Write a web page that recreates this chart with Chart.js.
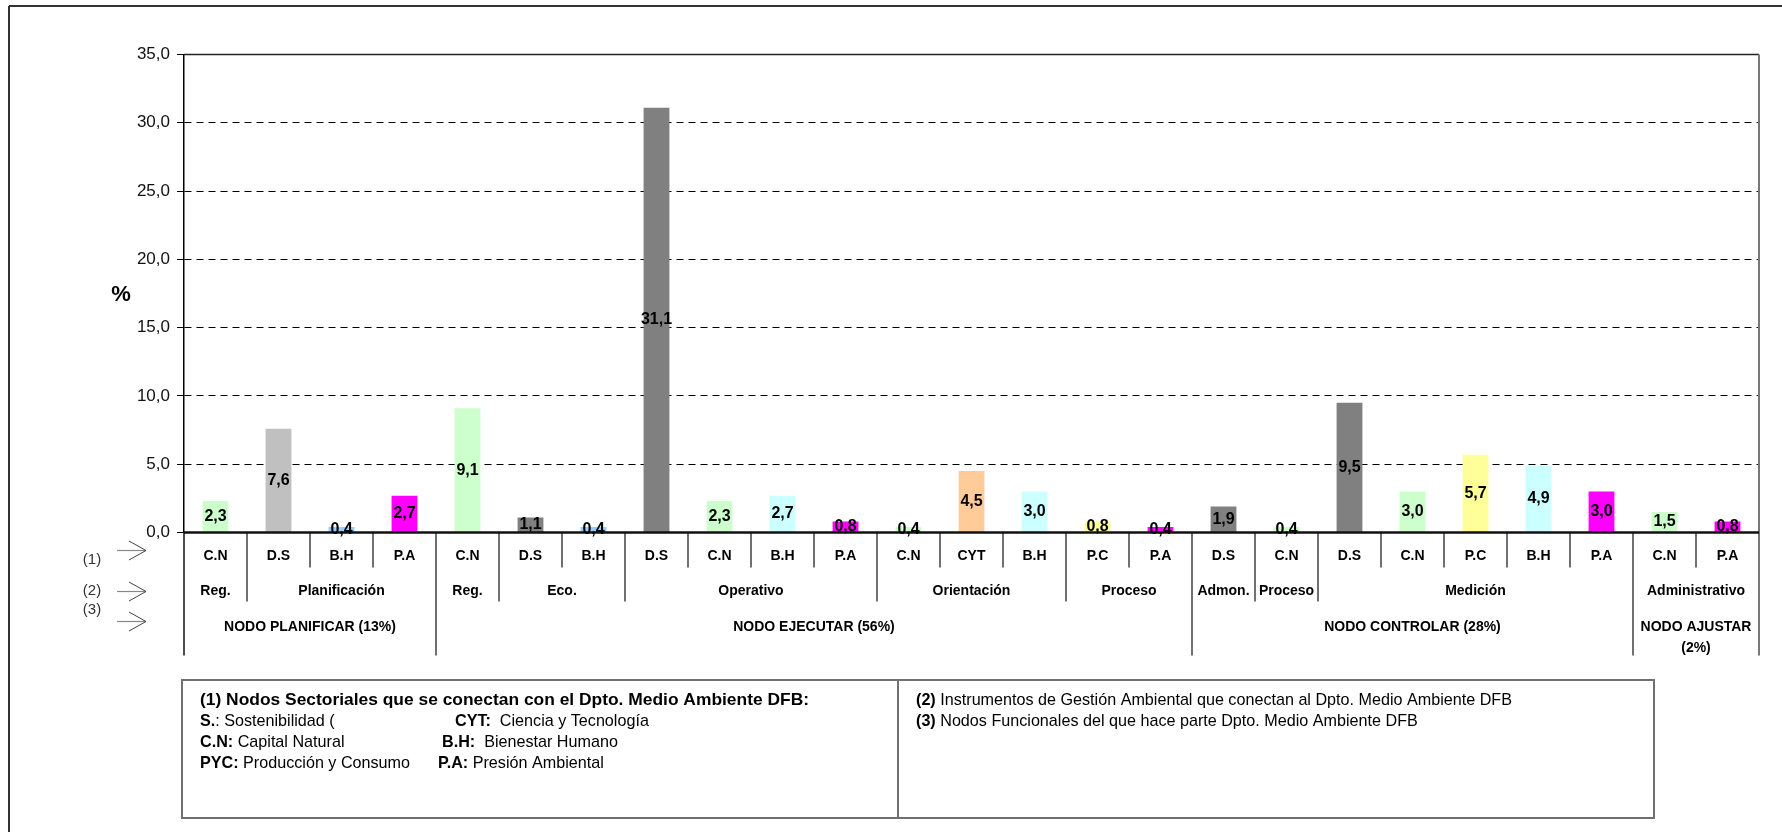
<!DOCTYPE html>
<html>
<head>
<meta charset="utf-8">
<title>Nodos Dpto. Medio Ambiente DFB</title>
<script src="https://cdn.jsdelivr.net/npm/chart.js@4.4.1/dist/chart.umd.min.js"></script>
<style>
  html, body { margin: 0; padding: 0; background: #fff; }
  #wrap { width: 1782px; height: 832px; }
</style>
</head>
<body>
<div id="wrap"><canvas id="grafico" width="1782" height="832"></canvas></div>
<script>
// (1) nodo sectorial de cada barra
const sectores = ['C.N', 'D.S', 'B.H', 'P.A', 'C.N', 'D.S', 'B.H', 'D.S', 'C.N', 'B.H', 'P.A', 'C.N', 'CYT',
  'B.H', 'P.C', 'P.A', 'D.S', 'C.N', 'D.S', 'C.N', 'P.C', 'B.H', 'P.A', 'C.N', 'P.A'];
const porcentajes = [2.3, 7.6, 0.4, 2.7, 9.1, 1.1, 0.4, 31.1, 2.3, 2.7, 0.8, 0.4, 4.5,
  3.0, 0.8, 0.4, 1.9, 0.4, 9.5, 3.0, 5.7, 4.9, 3.0, 1.5, 0.8];
const colores = ['#CCFFCC', '#C0C0C0', '#99CCFF', '#FF00FF', '#CCFFCC', '#808080', '#99CCFF', '#808080', '#CCFFCC',
  '#CCFFFF', '#FF00FF', '#CCFFCC', '#FFCC99', '#CCFFFF', '#FFFF99', '#FF00FF', '#808080', '#CCFFCC', '#808080',
  '#CCFFCC', '#FFFF99', '#CCFFFF', '#FF00FF', '#CCFFCC', '#FF00FF'];

// (2) instrumentos de gestion y cuantas barras cubre cada uno
const instrumentos = ['Reg.', 'Planificación', 'Reg.', 'Eco.', 'Operativo', 'Orientación', 'Proceso',
  'Admon.', 'Proceso', 'Medición', 'Administrativo'];
const instrumentosSpan = [1, 3, 1, 2, 4, 3, 2, 1, 1, 5, 2];

// (3) nodos funcionales
const nodos = ['NODO PLANIFICAR (13%)', 'NODO EJECUTAR (56%)', 'NODO CONTROLAR (28%)', 'NODO AJUSTAR (2%)'];
const nodosSpan = [4, 12, 7, 2];

const niveles = ['(1)', '(2)', '(3)'];

const nota1 = [
  [['(1) Nodos Sectoriales que se conectan con el Dpto. Medio Ambiente DFB:', true]],
  [['S.', true], [': Sostenibilidad (', false]],
  [['C.N:', true], [' Capital Natural', false]],
  [['PYC:', true], [' Producción y Consumo', false]]
];
const nota1b = [
  null,
  [['CYT:', true], ['  Ciencia y Tecnología', false]],
  [['B.H:', true], ['  Bienestar Humano', false]],
  [['P.A:', true], [' Presión Ambiental', false]]
];
const nota2 = [
  [['(2)', true], [' Instrumentos de Gestión Ambiental que conectan al Dpto. Medio Ambiente DFB', false]],
  [['(3)', true], [' Nodos Funcionales del que hace parte Dpto. Medio Ambiente DFB', false]]
];

const FONT = '"Liberation Sans", Arial, sans-serif';
const fmt = v => v.toFixed(1).replace('.', ',');

function line(ctx, x1, y1, x2, y2, color, w) {
  ctx.beginPath();
  ctx.strokeStyle = color;
  ctx.lineWidth = w;
  ctx.moveTo(x1, y1);
  ctx.lineTo(x2, y2);
  ctx.stroke();
}

// texto angosto: varias partes seguidas, comprimidas en horizontal
function narrow(ctx, partes, x, y, esc) {
  ctx.save();
  ctx.translate(x, y);
  ctx.scale(esc, 1);
  let cx = 0;
  partes.forEach(([s, b]) => {
    ctx.font = (b ? 'bold ' : '') + '17px ' + FONT;
    ctx.fillText(s, cx, 0);
    cx += ctx.measureText(s).width;
  });
  ctx.restore();
}

function rowWidth(ctx, partes) {
  let w = 0;
  partes.forEach(([s, b]) => {
    ctx.font = (b ? 'bold ' : '') + '17px ' + FONT;
    w += ctx.measureText(s).width;
  });
  return w;
}

function bounds(spans) {
  const out = [];
  let acc = 0;
  spans.forEach(n => { out.push([acc, acc + n]); acc += n; });
  return out;
}

const decoracion = {
  id: 'decoracion',
  beforeDraw(chart) {
    const ctx = chart.ctx;
    ctx.save();
    ctx.fillStyle = '#fff';
    ctx.fillRect(0, 0, chart.width, chart.height);
    ctx.restore();
  },
  afterDatasetsDraw(chart) {
    const { ctx, chartArea: a, scales: { x } } = chart;
    const meta = chart.getDatasetMeta(0);
    const step = x.getPixelForValue(1) - x.getPixelForValue(0);
    const edge = k => x.getPixelForValue(0) - step / 2 + k * step;
    const base = a.bottom;
    ctx.save();

    // marco exterior
    line(ctx, 9, 6, chart.width, 6, '#333', 2);
    line(ctx, 9, 6, 9, chart.height, '#333', 2);

    // marco del area de trazado
    line(ctx, a.left, a.top, a.right, a.top, '#222', 1.5);
    line(ctx, a.right, a.top, a.right, base + 123, '#777', 2);
    line(ctx, a.left, base, a.left, base + 123, '#111', 1.5);

    // separadores del eje de categorias
    const fin2 = bounds(instrumentosSpan).map(b => b[1]);
    const fin3 = bounds(nodosSpan).map(b => b[1]);
    for (let k = 1; k < sectores.length; k++) {
      let len = 35;
      if (fin3.includes(k)) len = 123;
      else if (fin2.includes(k)) len = 69;
      line(ctx, edge(k), base, edge(k), base + len, '#222', 1.3);
    }
    line(ctx, a.left, base, a.right, base, '#111', 2.5);

    // valores sobre las barras
    ctx.fillStyle = '#000';
    ctx.textAlign = 'center';
    ctx.textBaseline = 'middle';
    ctx.font = 'bold 16px ' + FONT;
    meta.data.forEach((bar, i) => {
      ctx.fillText(fmt(porcentajes[i]), bar.x, (bar.y + bar.base) / 2);
    });

    // fila (1)
    ctx.font = 'bold 14px ' + FONT;
    sectores.forEach((s, i) => ctx.fillText(s, x.getPixelForValue(i), base + 24));
    // fila (2)
    bounds(instrumentosSpan).forEach(([i0, i1], j) => {
      ctx.fillText(instrumentos[j], (edge(i0) + edge(i1)) / 2, base + 58.5);
    });
    // fila (3), se parte en dos lineas si no cabe
    bounds(nodosSpan).forEach(([i0, i1], j) => {
      const cx = (edge(i0) + edge(i1)) / 2;
      const w = edge(i1) - edge(i0);
      const t = nodos[j];
      if (ctx.measureText(t).width < w - 4) {
        ctx.fillText(t, cx, base + 95);
      } else {
        const cut = t.lastIndexOf(' ');
        ctx.fillText(t.slice(0, cut), cx, base + 95);
        ctx.fillText(t.slice(cut + 1), cx, base + 116);
      }
    });

    // titulo del eje y
    ctx.font = 'bold 22px ' + FONT;
    ctx.fillText('%', 121, 295);

    // flechas de niveles
    const yFlecha = [base + 18, base + 59, base + 89];
    const yNivel = [base + 27, base + 58.5, base + 77];
    ctx.font = '15px ' + FONT;
    ctx.fillStyle = '#333';
    niveles.forEach((n, i) => {
      ctx.fillText(n, 92, yNivel[i]);
      const yy = yFlecha[i];
      line(ctx, 117, yy, 146, yy, '#888', 1.2);
      ctx.beginPath();
      ctx.strokeStyle = '#444';
      ctx.lineWidth = 1;
      ctx.moveTo(129, yy - 9.5);
      ctx.lineTo(146, yy);
      ctx.lineTo(129, yy + 9.5);
      ctx.stroke();
    });

    // cuadros de notas
    ctx.strokeStyle = '#707070';
    ctx.lineWidth = 2;
    ctx.strokeRect(182, 680, 716, 138);
    ctx.strokeRect(898, 680, 756, 138);

    ctx.fillStyle = '#000';
    ctx.textAlign = 'left';
    const escTitulo = 609 / rowWidth(ctx, nota1[0]);
    const esc = 596 / rowWidth(ctx, nota2[0]);
    const filas = [700, 721, 742, 763];
    nota1.forEach((p, i) => narrow(ctx, p, 200, filas[i], i === 0 ? escTitulo : esc));
    const col2 = [0, 455, 442, 438];
    nota1b.forEach((p, i) => { if (p) narrow(ctx, p, col2[i], filas[i], esc); });
    nota2.forEach((p, i) => narrow(ctx, p, 916, filas[i], esc));

    ctx.restore();
  }
};

new Chart(document.getElementById('grafico'), {
  type: 'bar',
  data: {
    labels: sectores,
    datasets: [{
      data: porcentajes,
      backgroundColor: colores,
      borderWidth: 0,
      barPercentage: 0.41,
      categoryPercentage: 1.0
    }]
  },
  options: {
    responsive: false,
    animation: false,
    events: [],
    layout: { padding: { top: 54.5, right: 23, bottom: 299.5, left: 0 } },
    plugins: { legend: { display: false }, tooltip: { enabled: false } },
    scales: {
      x: { display: false },
      y: {
        min: 0,
        max: 35,
        afterFit: s => { s.width = 184; },
        ticks: {
          stepSize: 5,
          padding: 7,
          color: '#111',
          font: { family: FONT, size: 17 },
          callback: v => fmt(v)
        },
        grid: {
          color: c => (c.tick && (c.tick.value === 0 || c.tick.value === 35)) ? 'rgba(0,0,0,0)' : '#000',
          tickColor: '#000',
          tickLength: 7,
          lineWidth: 1
        },
        border: { display: true, color: '#000', width: 1.5, dash: [7, 5] }
      }
    }
  },
  plugins: [decoracion]
});
</script>
</body>
</html>
